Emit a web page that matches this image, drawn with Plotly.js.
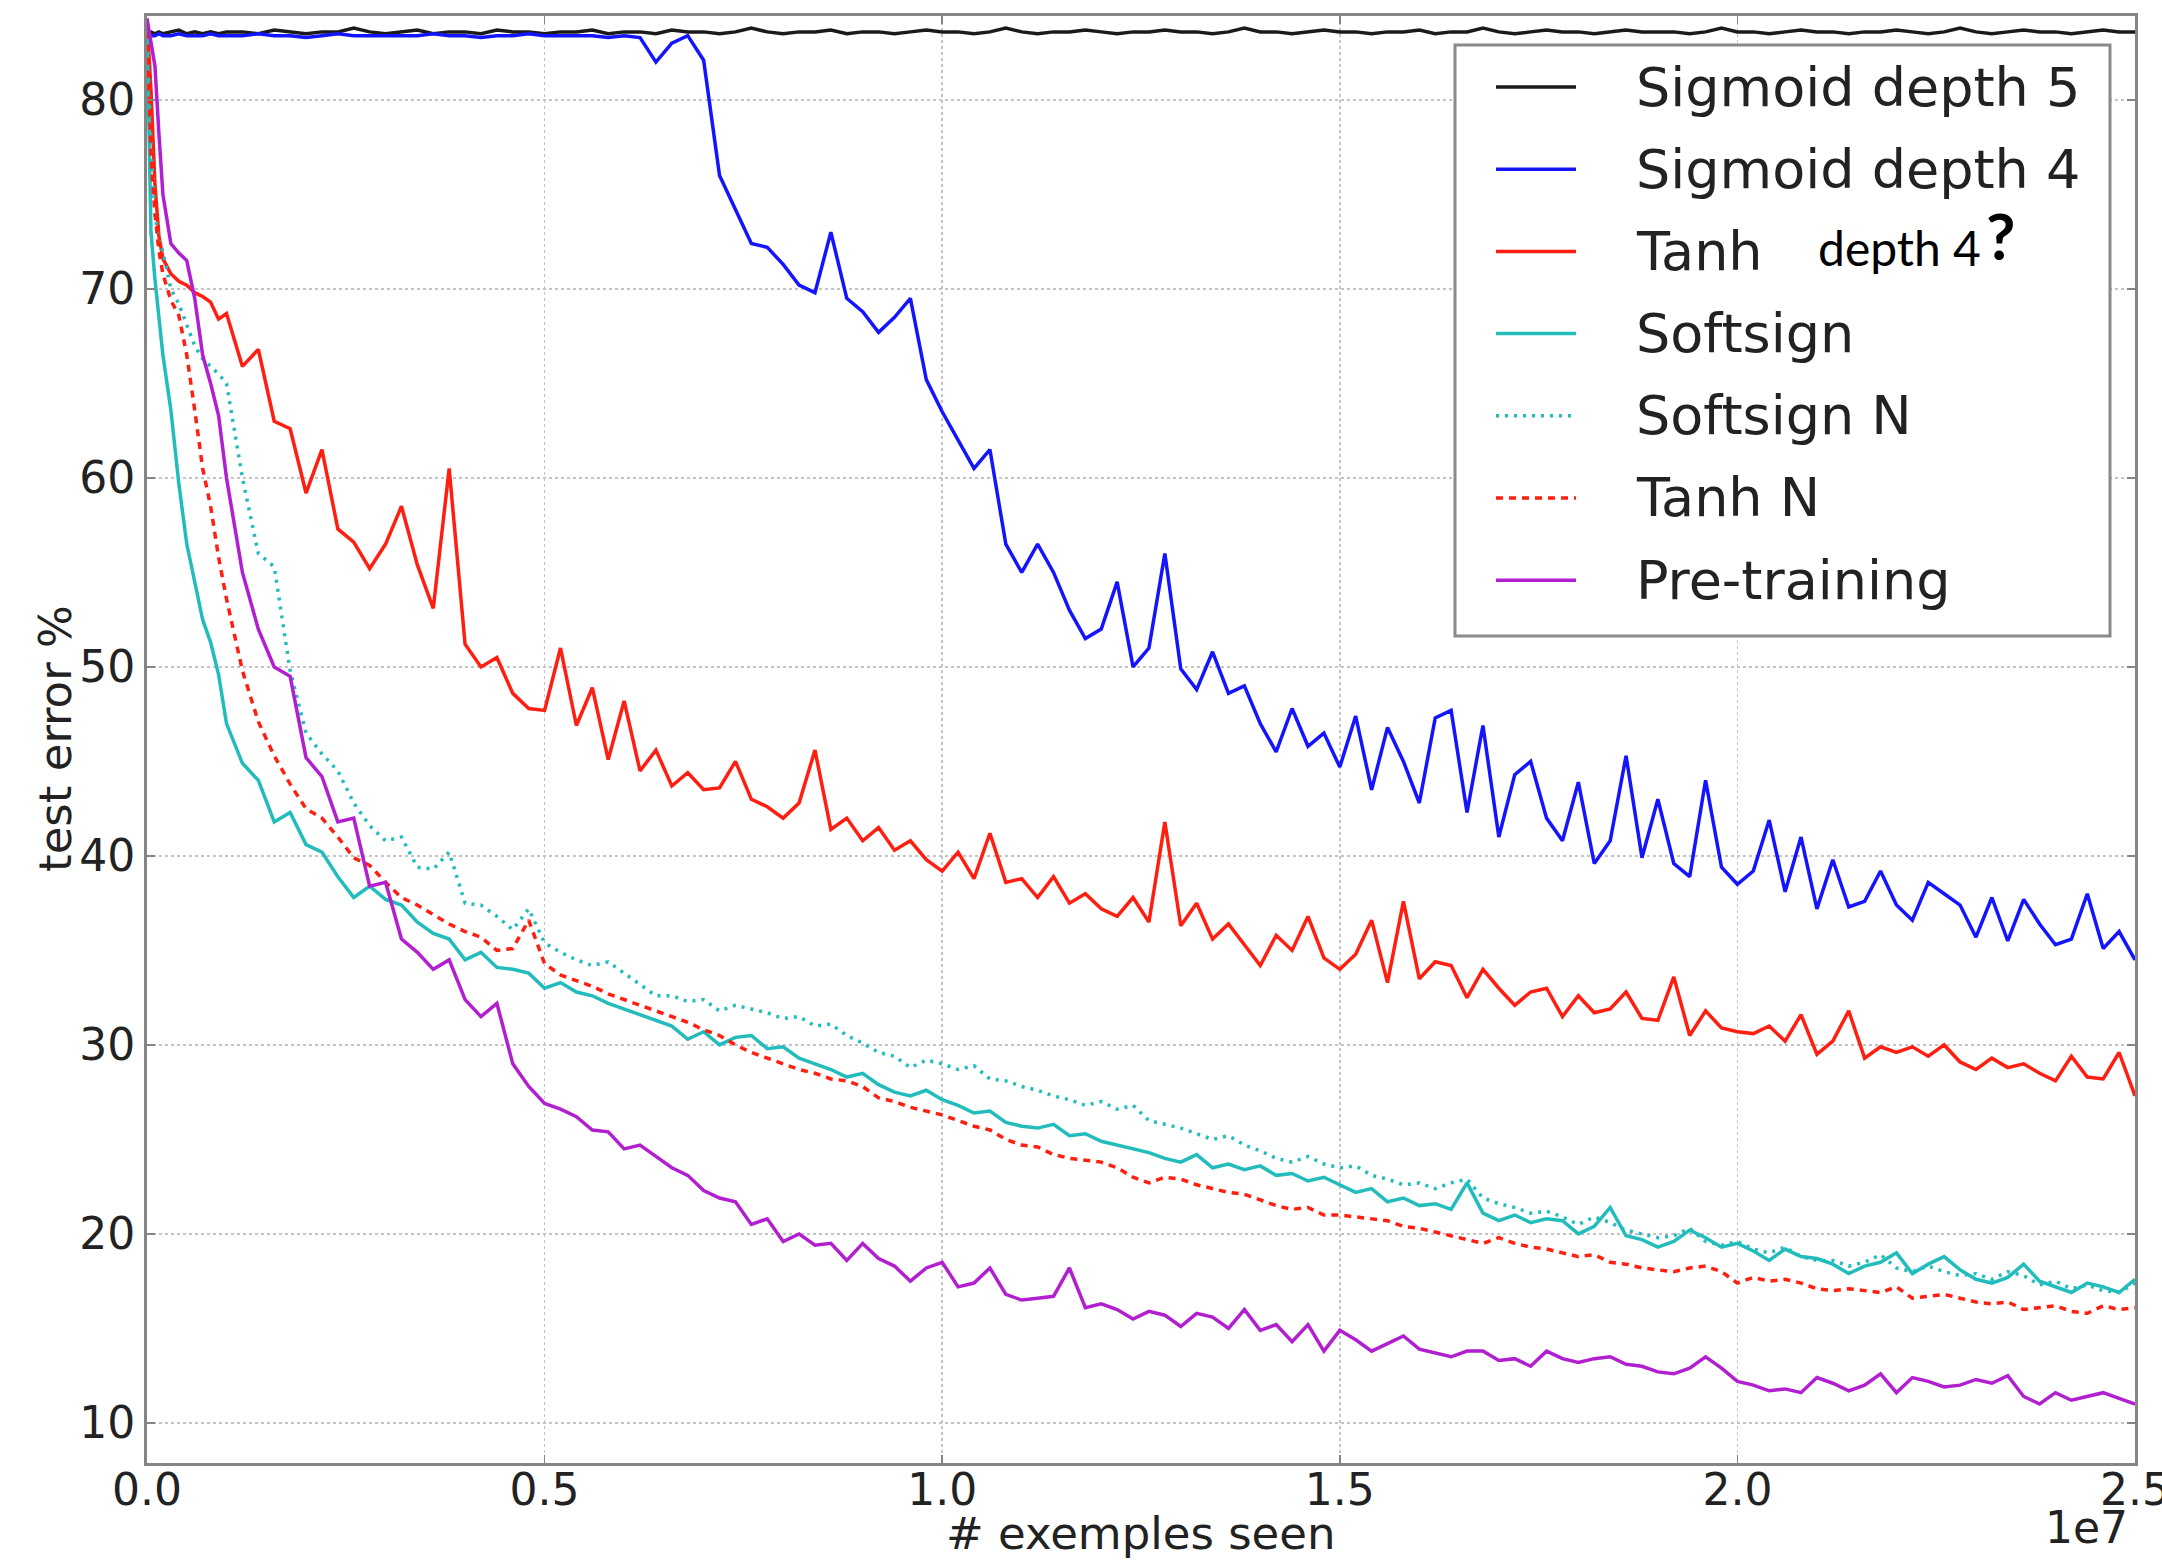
<!DOCTYPE html>
<html>
<head>
<meta charset="utf-8">
<script src="https://cdn.plot.ly/plotly-3.0.1.min.js"></script>
<style>
  html, body { margin: 0; padding: 0; background: #ffffff; }
  #chart { width: 2162px; height: 1563px; }
</style>
</head>
<body>
<div id="chart"></div>
<script>
// x values: examples seen, in units of 1e7 (axis multiplier "1e7")
const examplesSeen = [
  0, 0.005, 0.01, 0.015, 0.02, 0.03, 0.04, 0.05, 0.06, 0.07, 0.08, 0.09, 0.10,
  0.12, 0.14, 0.16, 0.18, 0.20, 0.22, 0.24, 0.26, 0.28, 0.30,
  0.32, 0.34, 0.36, 0.38, 0.40, 0.42, 0.44, 0.46, 0.48, 0.50,
  0.52, 0.54, 0.56, 0.58, 0.60, 0.62, 0.64, 0.66, 0.68, 0.70,
  0.72, 0.74, 0.76, 0.78, 0.80, 0.82, 0.84, 0.86, 0.88, 0.90,
  0.92, 0.94, 0.96, 0.98, 1.00, 1.02, 1.04, 1.06, 1.08, 1.10,
  1.12, 1.14, 1.16, 1.18, 1.20, 1.22, 1.24, 1.26, 1.28, 1.30,
  1.32, 1.34, 1.36, 1.38, 1.40, 1.42, 1.44, 1.46, 1.48, 1.50,
  1.52, 1.54, 1.56, 1.58, 1.60, 1.62, 1.64, 1.66, 1.68, 1.70,
  1.72, 1.74, 1.76, 1.78, 1.80, 1.82, 1.84, 1.86, 1.88, 1.90,
  1.92, 1.94, 1.96, 1.98, 2.00, 2.02, 2.04, 2.06, 2.08, 2.10,
  2.12, 2.14, 2.16, 2.18, 2.20, 2.22, 2.24, 2.26, 2.28, 2.30,
  2.32, 2.34, 2.36, 2.38, 2.40, 2.42, 2.44, 2.46, 2.48, 2.50
];

const sigmoidDepth5 = [
  83.6, 83.6, 83.5, 83.6, 83.5, 83.6, 83.7, 83.5, 83.6, 83.5, 83.6, 83.5, 83.6,
  83.6, 83.5, 83.7, 83.6, 83.5, 83.6, 83.6, 83.8, 83.6, 83.5,
  83.6, 83.7, 83.5, 83.6, 83.6, 83.5, 83.7, 83.6, 83.6, 83.5,
  83.6, 83.6, 83.7, 83.5, 83.6, 83.6, 83.5, 83.7, 83.6, 83.6,
  83.5, 83.6, 83.8, 83.6, 83.5, 83.6, 83.6, 83.7, 83.5, 83.6,
  83.6, 83.5, 83.6, 83.7, 83.6, 83.6, 83.5, 83.6, 83.8, 83.6,
  83.5, 83.6, 83.6, 83.7, 83.6, 83.5, 83.6, 83.6, 83.7, 83.6,
  83.6, 83.5, 83.6, 83.8, 83.6, 83.6, 83.5, 83.6, 83.7, 83.6,
  83.6, 83.5, 83.6, 83.6, 83.7, 83.5, 83.6, 83.6, 83.8, 83.6,
  83.5, 83.6, 83.7, 83.6, 83.6, 83.5, 83.6, 83.7, 83.6, 83.6,
  83.6, 83.5, 83.6, 83.8, 83.6, 83.6, 83.5, 83.6, 83.7, 83.6,
  83.6, 83.5, 83.6, 83.6, 83.7, 83.6, 83.5, 83.6, 83.8, 83.6,
  83.5, 83.6, 83.7, 83.6, 83.6, 83.5, 83.6, 83.7, 83.6, 83.6
];

const sigmoidDepth4 = [
  83.5, 83.4, 83.4, 83.5, 83.4, 83.4, 83.5, 83.4, 83.4, 83.4, 83.5, 83.4, 83.4,
  83.4, 83.5, 83.4, 83.4, 83.3, 83.4, 83.5, 83.4, 83.4, 83.4,
  83.4, 83.4, 83.5, 83.4, 83.4, 83.3, 83.4, 83.4, 83.5, 83.4,
  83.4, 83.4, 83.4, 83.3, 83.4, 83.3, 82.0, 83.0, 83.4, 82.1,
  76.0, 74.2, 72.4, 72.2, 71.3, 70.2, 69.8, 73.0, 69.5, 68.8,
  67.7, 68.5, 69.5, 65.2, 63.5, 62.0, 60.5, 61.5, 56.5, 55.0,
  56.5, 55.0, 53.0, 51.5, 52.0, 54.5, 50.0, 51.0, 56.0, 49.9,
  48.8, 50.8, 48.6, 49.0, 47.0, 45.5, 47.8, 45.8, 46.5, 44.7,
  47.4, 43.5, 46.8, 45.0, 42.8, 47.3, 47.7, 42.3, 46.9, 41.0,
  44.3, 45.0, 42.0, 40.8, 43.9, 39.6, 40.8, 45.3, 39.9, 43.0,
  39.6, 38.9, 44.0, 39.4, 38.5, 39.2, 41.9, 38.1, 41.0, 37.2,
  39.8, 37.3, 37.6, 39.2, 37.4, 36.6, 38.6, 38.0, 37.4, 35.7,
  37.8, 35.5, 37.7, 36.4, 35.3, 35.6, 38.0, 35.1, 36.0, 34.5
];

const tanh = [
  84.3, 80.5, 75.5, 72.8, 71.6, 70.8, 70.4, 70.2, 69.8, 69.6, 69.3, 68.4, 68.7,
  65.9, 66.8, 63.0, 62.6, 59.2, 61.5, 57.3, 56.6, 55.2, 56.5,
  58.5, 55.4, 53.1, 60.5, 51.2, 50.0, 50.5, 48.6, 47.8, 47.7,
  51.0, 46.9, 48.9, 45.1, 48.2, 44.5, 45.6, 43.7, 44.4, 43.5,
  43.6, 45.0, 43.0, 42.6, 42.0, 42.8, 45.6, 41.4, 42.0, 40.8,
  41.5, 40.3, 40.8, 39.8, 39.2, 40.2, 38.8, 41.2, 38.6, 38.8,
  37.8, 38.9, 37.5, 38.0, 37.2, 36.8, 37.8, 36.5, 41.8, 36.3,
  37.5, 35.6, 36.4, 35.3, 34.2, 35.8, 35.0, 36.8, 34.6, 34.0,
  34.8, 36.6, 33.3, 37.6, 33.5, 34.4, 34.2, 32.5, 34.0, 33.0,
  32.1, 32.8, 33.0, 31.5, 32.6, 31.7, 31.9, 32.8, 31.4, 31.3,
  33.6, 30.5, 31.8, 30.9, 30.7, 30.6, 31.0, 30.2, 31.6, 29.5,
  30.2, 31.8, 29.3, 29.9, 29.6, 29.9, 29.4, 30.0, 29.1, 28.7,
  29.3, 28.8, 29.0, 28.5, 28.1, 29.4, 28.3, 28.2, 29.6, 27.3
];

const softsign = [
  84.0, 73.0, 70.5, 68.5, 66.5, 63.6, 59.7, 56.5, 54.5, 52.5, 51.3, 49.6, 47.0,
  44.9, 44.0, 41.8, 42.3, 40.6, 40.2, 38.9, 37.8, 38.4, 37.7,
  37.4, 36.5, 35.9, 35.6, 34.5, 34.9, 34.1, 34.0, 33.8, 33.0,
  33.3, 32.8, 32.6, 32.2, 31.9, 31.6, 31.3, 31.0, 30.3, 30.7,
  30.0, 30.4, 30.5, 29.8, 29.9, 29.3, 29.0, 28.7, 28.3, 28.5,
  27.9, 27.5, 27.3, 27.6, 27.1, 26.8, 26.4, 26.5, 25.9, 25.7,
  25.6, 25.8, 25.2, 25.3, 24.9, 24.7, 24.5, 24.3, 24.0, 23.8,
  24.2, 23.5, 23.7, 23.4, 23.6, 23.1, 23.2, 22.8, 23.0, 22.6,
  22.2, 22.4, 21.7, 21.9, 21.5, 21.6, 21.3, 22.7, 21.1, 20.7,
  21.0, 20.6, 20.8, 20.7, 20.0, 20.4, 21.4, 19.9, 19.7, 19.3,
  19.6, 20.2, 19.8, 19.3, 19.5, 19.1, 18.6, 19.2, 18.8, 18.7,
  18.4, 17.9, 18.3, 18.5, 19.0, 17.9, 18.4, 18.8, 18.1, 17.6,
  17.4, 17.7, 18.4, 17.5, 17.2, 16.9, 17.4, 17.2, 16.9, 17.6
];

const softsignN = [
  84.0, 77.5, 74.0, 72.5, 72.0, 70.0, 69.2, 68.1, 67.0, 66.3, 65.9, 65.5, 65.0,
  60.0, 56.0, 55.3, 49.8, 46.5, 45.4, 44.5, 42.8, 41.6, 40.8,
  41.0, 39.4, 39.3, 40.2, 37.5, 37.4, 36.8, 36.1, 37.2, 35.4,
  34.9, 34.5, 34.2, 34.4, 33.8, 33.2, 32.6, 32.6, 32.3, 32.4,
  31.8, 32.1, 31.9, 31.7, 31.4, 31.5, 31.0, 31.1, 30.5, 30.1,
  29.6, 29.4, 28.8, 29.2, 29.0, 28.7, 28.9, 28.2, 28.1, 27.8,
  27.6, 27.3, 27.1, 26.8, 27.0, 26.6, 26.8, 26.0, 25.8, 25.6,
  25.3, 25.0, 25.2, 24.7, 24.4, 24.0, 23.8, 24.1, 23.7, 23.5,
  23.6, 23.1, 22.9, 22.6, 22.7, 22.4, 22.7, 22.9, 21.9, 21.6,
  21.4, 21.1, 21.2, 20.9, 20.5, 20.9, 20.6, 20.2, 20.0, 19.8,
  19.9, 20.3, 19.6, 19.4, 19.6, 19.2, 19.0, 19.3, 18.8, 18.6,
  18.6, 18.3, 18.5, 18.9, 18.2, 18.0, 18.3, 18.0, 17.8, 17.9,
  17.6, 18.0, 17.8, 17.3, 17.5, 17.1, 17.3, 17.0, 16.9, 17.4
];

const tanhN = [
  84.3, 77.0, 74.0, 72.0, 70.8, 69.4, 68.6, 66.5, 63.6, 60.5, 58.5, 55.8, 53.6,
  49.8, 47.1, 45.3, 43.8, 42.5, 42.0, 41.0, 39.9, 39.5, 38.6,
  37.8, 37.4, 36.9, 36.4, 36.0, 35.7, 35.0, 35.1, 36.6, 34.3,
  33.7, 33.4, 33.1, 32.7, 32.4, 32.1, 31.8, 31.5, 31.2, 30.8,
  30.5, 30.0, 29.6, 29.3, 29.0, 28.7, 28.5, 28.2, 28.1, 27.8,
  27.2, 27.0, 26.7, 26.5, 26.3, 26.0, 25.7, 25.5, 25.0, 24.7,
  24.6, 24.2, 24.0, 23.9, 23.8, 23.5, 23.0, 22.7, 23.0, 22.9,
  22.6, 22.4, 22.2, 22.1, 21.8, 21.5, 21.3, 21.4, 21.0, 21.0,
  20.9, 20.8, 20.7, 20.4, 20.3, 20.1, 19.9, 19.7, 19.5, 19.8,
  19.5, 19.3, 19.2, 19.0, 18.8, 18.9, 18.5, 18.4, 18.2, 18.1,
  18.0, 18.2, 18.3, 18.0, 17.4, 17.7, 17.5, 17.6, 17.4, 17.1,
  17.0, 17.1, 17.0, 16.9, 17.2, 16.6, 16.7, 16.8, 16.6, 16.4,
  16.3, 16.4, 16.0, 16.1, 16.2, 15.9, 15.8, 16.2, 16.0, 16.1
];

const preTraining = [
  84.3, 83.0, 81.8, 78.2, 75.0, 72.4, 71.9, 71.5, 69.5, 66.5, 65.0, 63.3, 60.0,
  55.0, 52.0, 50.0, 49.5, 45.2, 44.2, 41.8, 42.0, 38.4, 38.6,
  35.6, 34.9, 34.0, 34.5, 32.4, 31.5, 32.2, 29.0, 27.8, 26.9,
  26.6, 26.2, 25.5, 25.4, 24.5, 24.7, 24.1, 23.5, 23.1, 22.3,
  21.9, 21.7, 20.5, 20.8, 19.6, 20.0, 19.4, 19.5, 18.6, 19.5,
  18.7, 18.3, 17.5, 18.2, 18.5, 17.2, 17.4, 18.2, 16.8, 16.5,
  16.6, 16.7, 18.2, 16.1, 16.3, 16.0, 15.5, 15.9, 15.7, 15.1,
  15.8, 15.6, 15.0, 16.0, 14.9, 15.2, 14.3, 15.2, 13.8, 14.9,
  14.4, 13.8, 14.2, 14.6, 13.9, 13.7, 13.5, 13.8, 13.8, 13.3,
  13.4, 13.0, 13.8, 13.4, 13.2, 13.4, 13.5, 13.1, 13.0, 12.7,
  12.6, 12.9, 13.5, 12.9, 12.2, 12.0, 11.7, 11.8, 11.6, 12.4,
  12.1, 11.7, 12.0, 12.6, 11.6, 12.4, 12.2, 11.9, 12.0, 12.3,
  12.1, 12.5, 11.4, 11.0, 11.6, 11.2, 11.4, 11.6, 11.3, 11.0
];

const seriesNames = ['Sigmoid depth 5', 'Sigmoid depth 4', 'Tanh', 'Softsign', 'Softsign N', 'Tanh N', 'Pre-training'];
const yTickValues = [10, 20, 30, 40, 50, 60, 70, 80];
const xTickValues = [0, 0.5, 1.0, 1.5, 2.0, 2.5];
const xTickLabels = ['0.0', '0.5', '1.0', '1.5', '2.0', '2.5'];

const FONT = 'DejaVu Sans, Bitstream Vera Sans, sans-serif';

// styles (colour, dash) per series, in legend order
const seriesStyles = [
  { color: '#1a1a1a', dash: 'solid' },
  { color: '#1414ff', dash: 'solid' },
  { color: '#ff1e10', dash: 'solid' },
  { color: '#22bcbc', dash: 'solid' },
  { color: '#22bcbc', dash: '3px,6px' },
  { color: '#ff1e10', dash: '7px,6px' },
  { color: '#b21fd0', dash: 'solid' }
];
const seriesValues = [sigmoidDepth5, sigmoidDepth4, tanh, softsign, softsignN, tanhN, preTraining];

const traces = seriesValues.map((vals, i) => ({
  type: 'scatter', mode: 'lines', name: seriesNames[i],
  x: examplesSeen, y: vals,
  line: { color: seriesStyles[i].color, width: 3.5, dash: seriesStyles[i].dash },
  showlegend: false
}));

// ---- legend drawn in plot-area pixel terms (plot area: 1988 x 1447 px) ----
const PW = 1988, PH = 1447;
const px = (X) => (X - 147) / PW;     // page x -> paper x
const py = (Y) => (1463 - Y) / PH;    // page y -> paper y
const legBox = { x0: 1455, x1: 2110, y0: 45, y1: 636 };
const legLine = { x0: 1496, x1: 1576 };
const legTextX = 1634, legRow0 = 87, legRowStep = 82.2;

const shapes = [{
  type: 'rect', xref: 'paper', yref: 'paper', layer: 'above',
  x0: px(legBox.x0), x1: px(legBox.x1), y0: py(legBox.y1), y1: py(legBox.y0),
  fillcolor: '#ffffff', line: { color: '#8a8a8a', width: 3 }
}];
const legendTexts = [];
seriesNames.forEach((name, i) => {
  const yRow = py(legRow0 + i * legRowStep);
  shapes.push({
    type: 'line', xref: 'paper', yref: 'paper', layer: 'above',
    x0: px(legLine.x0), x1: px(legLine.x1), y0: yRow, y1: yRow,
    line: { color: seriesStyles[i].color, width: 3.5, dash: seriesStyles[i].dash }
  });
  legendTexts.push({
    text: name, xref: 'paper', yref: 'paper', x: px(legTextX), y: yRow,
    xanchor: 'left', yanchor: 'middle', showarrow: false,
    font: { family: FONT, size: 54, color: '#222222' }
  });
});

const axisCommon = {
  showgrid: true, gridcolor: '#c4c4c4', griddash: 'dot', gridwidth: 1.5,
  showline: true, linecolor: '#858585', linewidth: 3, mirror: 'allticks',
  ticks: 'inside', ticklen: 8, tickwidth: 1.5, tickcolor: '#858585',
  zeroline: false, ticklabeloverflow: 'allow',
  tickfont: { family: FONT, size: 44, color: '#222222' }
};

const layout = {
  width: 2162, height: 1563,
  margin: { l: 147, r: 27, t: 16, b: 100, pad: 0 },
  paper_bgcolor: '#ffffff', plot_bgcolor: '#ffffff',
  showlegend: false,
  xaxis: Object.assign({}, axisCommon, {
    range: [0, 2.5], tickvals: xTickValues, ticktext: xTickLabels,
    ticklabelstandoff: -14
  }),
  yaxis: Object.assign({}, axisCommon, {
    range: [7.88, 84.44], tickvals: yTickValues
  }),
  shapes: shapes,
  annotations: legendTexts.concat([
    { text: '# exemples seen', xref: 'paper', yref: 'paper', x: 0.5, y: -0.0484,
      xanchor: 'center', yanchor: 'middle', showarrow: false,
      font: { family: FONT, size: 45, color: '#222222' } },
    { text: 'test error %', xref: 'paper', yref: 'paper', x: -0.0463, y: 0.501,
      xanchor: 'center', yanchor: 'middle', showarrow: false, textangle: -90,
      font: { family: FONT, size: 45, color: '#222222' } },
    { text: '1e7', xref: 'paper', yref: 'paper', x: 0.9975, y: -0.0449,
      xanchor: 'right', yanchor: 'middle', showarrow: false,
      font: { family: FONT, size: 44, color: '#222222' } },
    { text: 'depth 4', xref: 'paper', yref: 'paper', x: 0.8813, y: 0.8397,
      xanchor: 'center', yanchor: 'middle', showarrow: false,
      font: { family: 'Lato, sans-serif', size: 48, color: '#000000' } },
    { text: '<b>?</b>', xref: 'paper', yref: 'paper', x: 0.9321, y: 0.8486,
      xanchor: 'center', yanchor: 'middle', showarrow: false,
      font: { family: 'Lato, sans-serif', size: 64, color: '#000000' } }
  ])
};

Plotly.newPlot('chart', traces, layout, { displayModeBar: false, staticPlot: true });
</script>
</body>
</html>
